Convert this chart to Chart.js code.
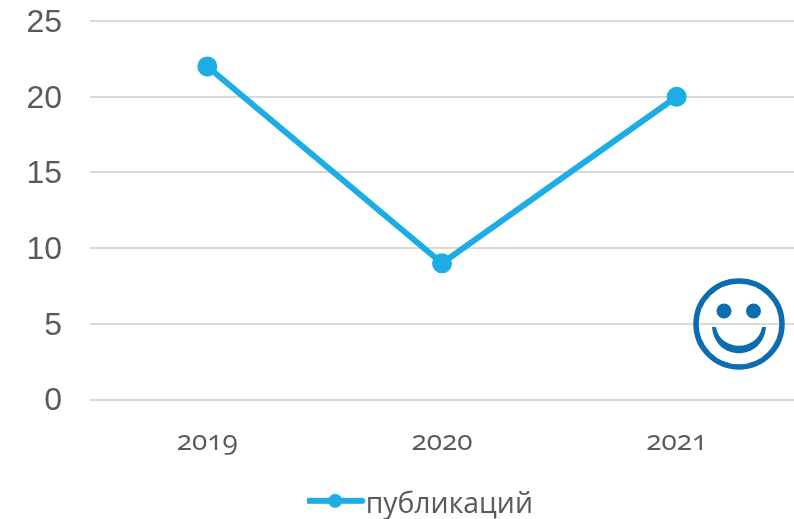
<!DOCTYPE html>
<html>
<head>
<meta charset="utf-8">
<style>
  html, body { margin: 0; padding: 0; background: #fff; }
  canvas { display: block; font-feature-settings: "onum" 1; font-variant-numeric: oldstyle-nums; }
</style>
<script src="https://cdn.jsdelivr.net/npm/chart.js@4"></script>
</head>
<body>
<canvas id="chart" width="794" height="519"></canvas>
<script>
const years = ["2019", "2020", "2021"];
const publications = [22, 9, 20];
const seriesName = "публикаций";
const blue = "#1CADE4";
const grey = "#595959";
const fontName = "'Open Sans', sans-serif";

// legend key: line with a dot on it, drawn high in its box so it sits above the text centre
const key = document.createElement("canvas");
key.width = 60;
key.height = 24;
const k = key.getContext("2d");
k.strokeStyle = blue;
k.lineWidth = 6;
k.lineCap = "round";
k.beginPath();
k.moveTo(2, 8);
k.lineTo(55, 8);
k.stroke();
k.fillStyle = blue;
k.beginPath();
k.arc(28, 8, 7, 0, Math.PI * 2);
k.fill();

// legend sits right of centre in the original
const moveLegend = {
  id: "moveLegend",
  afterLayout(chart) {
    const l = chart.legend;
    l.left += 31;
    l.right += 31;
    l.top += 10;
    l.bottom += 10;
  }
};

const smiley = {
  id: "smiley",
  afterDraw(chart) {
    const c = chart.ctx;
    const x = 739, y = 324;
    c.save();
    c.strokeStyle = "#0B6DB0";
    c.fillStyle = "#0B6DB0";
    c.lineWidth = 5.5;
    c.beginPath();
    c.arc(x, y, 43, 0, Math.PI * 2);
    c.stroke();
    c.beginPath();
    c.arc(x - 15, y - 13, 7.5, 0, Math.PI * 2);
    c.arc(x + 14.5, y - 13, 7.5, 0, Math.PI * 2);
    c.fill();
    // mouth, crescent shaped
    c.beginPath();
    c.moveTo(x - 27, y + 3);
    c.bezierCurveTo(x - 24, y + 38, x + 24, y + 38, x + 27, y + 3);
    c.lineTo(x + 23, y + 3);
    c.bezierCurveTo(x + 19, y + 28, x - 19, y + 28, x - 23, y + 3);
    c.closePath();
    c.fill();
    c.restore();
  }
};

new Chart(document.getElementById("chart"), {
  type: "line",
  data: {
    labels: years,
    datasets: [{
      label: seriesName,
      data: publications,
      borderColor: blue,
      backgroundColor: blue,
      borderWidth: 6,
      pointRadius: 7,
      pointHoverRadius: 7,
      pointBackgroundColor: blue,
      pointStyle: "circle",
      tension: 0,
      fill: false
    }]
  },
  options: {
    responsive: false,
    animation: false,
    layout: { autoPadding: false, padding: { top: 21, right: 0, bottom: 0, left: 0 } },
    scales: {
      x: {
        offset: true,
        grid: { display: false },
        border: { display: false },
        ticks: { color: grey, font: { family: fontName, size: 28 }, padding: 18, maxRotation: 0 },
        afterFit(a) {
          a.height = 81;
          a.paddingLeft = 0;
          a.paddingRight = 0;
        }
      },
      y: {
        min: 0,
        max: 25,
        grid: { color: "#D9D9D9", lineWidth: 2, drawTicks: false },
        border: { display: false },
        ticks: { stepSize: 5, color: grey, font: { family: "'Liberation Sans', sans-serif", size: 32 }, padding: 28, labelOffset: 2 },
        afterFit(a) {
          a.width = 90;
          a.paddingTop = 0;
          a.paddingBottom = 0;
        }
      }
    },
    plugins: {
      tooltip: { enabled: false },
      legend: {
        position: "bottom",
        labels: {
          usePointStyle: true,
          color: grey,
          font: { family: fontName, size: 28.4 },
          padding: 0,
          generateLabels: () => [{ text: seriesName, pointStyle: key, fontColor: grey, lineWidth: 0, strokeStyle: "transparent", fillStyle: blue }]
        }
      }
    }
  },
  plugins: [moveLegend, smiley]
});
</script>
</body>
</html>
